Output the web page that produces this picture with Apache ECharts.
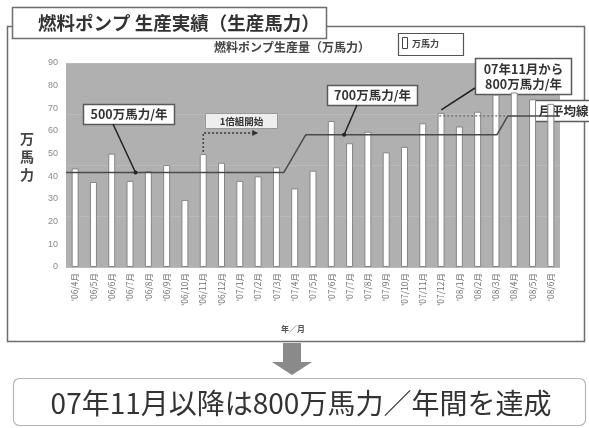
<!DOCTYPE html>
<html>
<head>
<meta charset="utf-8">
<script src="https://cdn.jsdelivr.net/npm/echarts@6/dist/echarts.min.js"></script>
<style>
html, body { margin: 0; padding: 0; background: #ffffff; }
#chart { width: 589px; height: 428px; }
</style>
</head>
<body>
<div id="chart"></div>
<script>
// Monthly fuel-pump output (万馬力), April 2006 – June 2008
const months = [
  "'06/4月", "'06/5月", "'06/6月", "'06/7月", "'06/8月", "'06/9月", "'06/10月", "'06/11月", "'06/12月",
  "'07/1月", "'07/2月", "'07/3月", "'07/4月", "'07/5月", "'07/6月", "'07/7月", "'07/8月", "'07/9月",
  "'07/10月", "'07/11月", "'07/12月", "'08/1月", "'08/2月", "'08/3月", "'08/4月", "'08/5月", "'08/6月"
];
const production = [
  43.5, 37.5, 50, 38, 42.3, 45, 29.6, 49.8, 46,
  38, 40, 44, 34.7, 42.5, 64.4, 54.6, 59.7, 50.6,
  53, 63.4, 68, 62, 68.5, 76, 77, 74, 72
];
// Annual capacity plans (万馬力/年) and the month each one takes effect
const planMonths = ["'06/4月", "'07/4月", "'08/3月"];
const planAnnual = [500, 700, 800];
const yTicks = [0, 10, 20, 30, 40, 50, 60, 70, 80, 90];

const FONT = '"Noto Sans CJK JP", "Noto Sans", sans-serif';
// half-width of the ramp between two plan levels, in category units
const rampHalf = [0, 0.6, 0.3];
const rampShift = [0, 0, 0.35];

// Monthly average line: each annual plan divided by 12
const avgLine = [];
planMonths.forEach((m, k) => {
  const idx = months.indexOf(m);
  const level = planAnnual[k] / 12;
  if (k === 0) {
    avgLine.push([-0.5, level]);
  } else {
    avgLine.push([idx + rampShift[k] - rampHalf[k], planAnnual[k - 1] / 12]);
    avgLine.push([idx + rampShift[k] + rampHalf[k], level]);
  }
});
avgLine.push([months.length - 0.5, planAnnual[planAnnual.length - 1] / 12]);

// Dotted extension of the 800 level back to Nov/Dec 2007
const dottedStart = months.indexOf("'07/12月") - 0.1;
const dottedLine = [
  [dottedStart, planAnnual[2] / 12],
  [avgLine[avgLine.length - 2][0], planAnnual[2] / 12]
];

const chart = echarts.init(document.getElementById('chart'), null, { renderer: 'canvas' });

const grid = { left: 66, right: 29, top: 63, bottom: 161, show: true, backgroundColor: '#b0b0b0', borderWidth: 0 };

chart.setOption({
  animation: false,
  backgroundColor: '#ffffff',
  textStyle: { fontFamily: FONT },
  grid: grid,
  xAxis: [
    {
      type: 'category',
      data: months,
      axisLine: { show: false },
      axisTick: { show: false },
      axisLabel: { rotate: 90, fontSize: 8.5, color: '#707070', margin: 6, interval: 0, fontFamily: FONT }
    },
    { type: 'value', min: -0.5, max: months.length - 0.5, show: false }
  ],
  yAxis: [
    {
      type: 'value', min: yTicks[0], max: yTicks[yTicks.length - 1], interval: 10,
      axisLine: { show: false }, axisTick: { show: false },
      axisLabel: { fontSize: 9, color: '#8a8a8a', margin: 8, fontFamily: 'Liberation Sans, sans-serif' },
      splitLine: { show: false }
    },
    {
      type: 'value', min: 0, max: 80, interval: 20, show: true,
      position: 'left',
      axisLine: { show: false }, axisTick: { show: false }, axisLabel: { show: false },
      splitLine: { show: true, lineStyle: { color: '#bababa', width: 1 } }
    }
  ],
  series: [
    {
      type: 'bar',
      data: production,
      barWidth: 7,
      itemStyle: { color: '#ffffff', borderColor: '#858585', borderWidth: 1 },
      z: 3
    },
    {
      type: 'line',
      xAxisIndex: 1,
      data: avgLine,
      symbol: 'none',
      lineStyle: { color: '#4a4a4a', width: 1.5 },
      z: 4
    },
    {
      type: 'line',
      xAxisIndex: 1,
      data: dottedLine,
      symbol: 'none',
      lineStyle: { color: '#6a6a6a', width: 1.2, type: [2, 2] },
      z: 4
    }
  ]
});

// Helper: data -> pixel on the category axis / value axis
function px(idx, val) {
  return chart.convertToPixel({ xAxisIndex: 1, yAxisIndex: 0 }, [idx, val]);
}

const p500 = px(3.3, planAnnual[0] / 12);
const p700 = px(14.7, planAnnual[1] / 12);
const p800 = px(dottedStart, planAnnual[2] / 12);
const startIdx = months.indexOf("'06/11月");
const pStart = px(startIdx, production[startIdx]);

function box(x, y, w, h, text, size, alignLeft) {
  return {
    type: 'group', z: 20,
    children: [
      { type: 'rect', shape: { x: x, y: y, width: w, height: h },
        style: { fill: '#ffffff', stroke: '#5a5a5a', lineWidth: 1.5 } },
      { type: 'text', x: alignLeft ? x + 5 : x + w / 2, y: y + h / 2,
        style: { text: text, fill: '#333333', font: 'bold ' + size + 'px ' + FONT,
          align: alignLeft ? 'left' : 'center', verticalAlign: 'middle', lineHeight: size + 3 } }
    ]
  };
}

const graphics = [
  // outer frame
  { type: 'rect', z: -10, shape: { x: 7.5, y: 26.5, width: 577, height: 315 },
    style: { fill: 'none', stroke: '#6e6e6e', lineWidth: 1.5 } },
  // title box
  { type: 'rect', z: 10, shape: { x: 12.5, y: 7.5, width: 314, height: 31 },
    style: { fill: '#ffffff', stroke: '#6e6e6e', lineWidth: 1.5 } },
  { type: 'text', z: 11, x: 38, y: 23,
    style: { text: '燃料ポンプ 生産実績（生産馬力）', font: 'bold 18.5px ' + FONT, fill: '#333333', verticalAlign: 'middle' } },
  // chart subtitle
  { type: 'text', z: 11, x: 214, y: 47,
    style: { text: '燃料ポンプ生産量（万馬力）', font: 'bold 12px ' + FONT, fill: '#444444', verticalAlign: 'middle' } },
  // legend
  { type: 'rect', z: 11, shape: { x: 398.5, y: 33.5, width: 65, height: 22 },
    style: { fill: '#ffffff', stroke: '#555555', lineWidth: 1.2 } },
  { type: 'rect', z: 12, shape: { x: 402.5, y: 37.5, width: 5, height: 11 },
    style: { fill: '#ffffff', stroke: '#444444', lineWidth: 1 } },
  { type: 'text', z: 12, x: 412, y: 44,
    style: { text: '万馬力', font: 'bold 9px ' + FONT, fill: '#444444', verticalAlign: 'middle' } },
  // y-axis name
  { type: 'text', z: 11, x: 27, y: 157,
    style: { text: '万\n馬\n力', font: 'bold 14px ' + FONT, fill: '#444444', align: 'center', verticalAlign: 'middle', lineHeight: 18 } },
  // x-axis name
  { type: 'text', z: 11, x: 293, y: 329,
    style: { text: '年／月', font: 'bold 8px ' + FONT, fill: '#555555', align: 'center', verticalAlign: 'middle' } },

  // 500 annotation
  { type: 'line', z: 19, shape: { x1: 113, y1: 124, x2: p500[0], y2: p500[1] },
    style: { stroke: '#222222', lineWidth: 1.5 } },
  { type: 'circle', z: 19, shape: { cx: p500[0], cy: p500[1], r: 2 }, style: { fill: '#222222' } },
  box(83.5, 104.5, 91, 20, '500万馬力/年', 12.5),

  // 700 annotation
  { type: 'line', z: 19, shape: { x1: 357, y1: 105, x2: p700[0], y2: p700[1] },
    style: { stroke: '#222222', lineWidth: 1.5 } },
  { type: 'circle', z: 19, shape: { cx: p700[0], cy: p700[1], r: 2 }, style: { fill: '#222222' } },
  box(327.5, 85.5, 90, 20, '700万馬力/年', 12.5),

  // 800 annotation
  { type: 'line', z: 19, shape: { x1: 475, y1: 88, x2: p800[0] + 2, y2: p800[1] - 6 },
    style: { stroke: '#222222', lineWidth: 1.5 } },
  box(475.5, 58.5, 96, 36, '07年11月から\n800万馬力/年', 12.5),

  // monthly average label
  box(533.5, 100.5, 70, 21, '月平均線', 12.5, true),

  // shift start annotation
  { type: 'polyline', z: 19, shape: { points: [[pStart[0], pStart[1] - 2], [pStart[0], 133], [pStart[0] + 50, 133]] },
    style: { stroke: '#333333', lineWidth: 1.3, lineDash: [2, 2], fill: 'none' } },
  { type: 'polygon', z: 19, shape: { points: [[pStart[0] + 55, 133], [pStart[0] + 49, 130], [pStart[0] + 49, 136]] },
    style: { fill: '#333333' } },
  { type: 'group', z: 20, children: [
    { type: 'rect', shape: { x: 205.5, y: 113.5, width: 72, height: 15 },
      style: { fill: '#eeeeee', stroke: '#9a9a9a', lineWidth: 1 } },
    { type: 'text', x: 241.5, y: 121,
      style: { text: '1倍組開始', font: 'bold 9.5px ' + FONT, fill: '#333333', align: 'center', verticalAlign: 'middle' } }
  ] },

  // down arrow
  { type: 'polygon', z: 5, shape: { points: [[283, 343], [301, 343], [301, 362], [312, 362], [292, 375], [272, 362], [283, 362]] },
    style: { fill: '#8a8a8a' } },
  // conclusion box
  { type: 'rect', z: 5, shape: { x: 13.5, y: 378.5, width: 572, height: 47, r: 6 },
    style: { fill: '#ffffff', stroke: '#b5b5b5', lineWidth: 1.2 } },
  { type: 'text', z: 6, x: 301, y: 403,
    style: { text: '07年11月以降は800万馬力／年間を達成', font: '28px ' + FONT, fill: '#333333', align: 'center', verticalAlign: 'middle' } }
];

chart.setOption({ graphic: graphics });
</script>
</body>
</html>
